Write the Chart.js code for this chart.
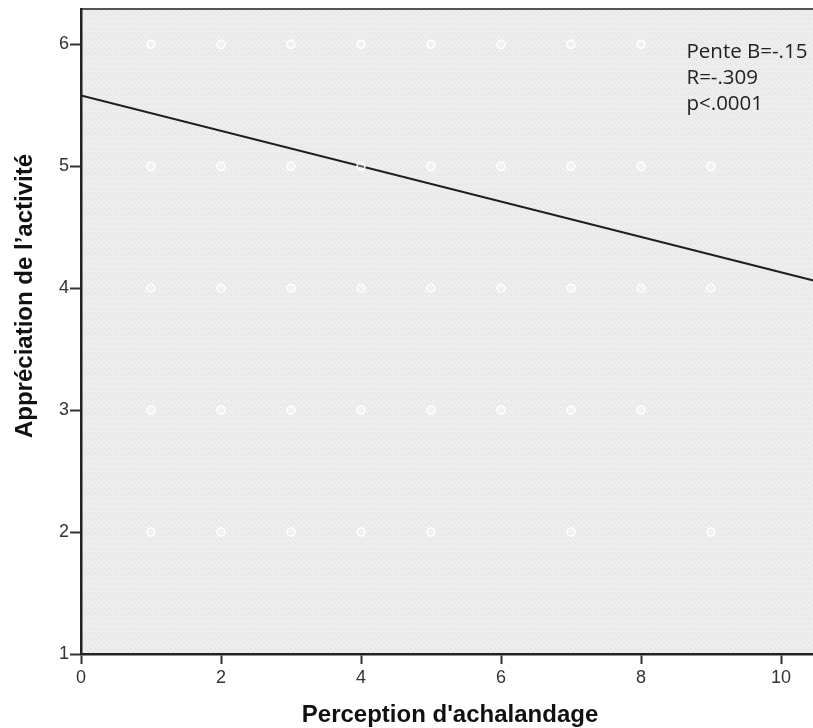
<!DOCTYPE html>
<html>
<head>
<meta charset="utf-8">
<script src="https://cdn.jsdelivr.net/npm/chart.js@4/dist/chart.umd.min.js"></script>
<style>
  body { margin: 0; background: #fff; overflow: hidden; }
  #wrap { width: 813px; height: 728px; overflow: hidden; }
</style>
</head>
<body>
<div id="wrap"><canvas id="myChart" width="830" height="728"></canvas></div>
<script>
'use strict'

// observed points, grouped by rating (y)
let yLevels = [6, 5, 4, 3, 2];
let xAtLevel = [
  [1, 2, 3, 4, 5, 6, 7, 8],
  [1, 2, 3, 4, 5, 6, 7, 8, 9],
  [1, 2, 3, 4, 5, 6, 7, 8, 9],
  [1, 2, 3, 4, 5, 6, 7, 8],
  [1, 2, 3, 4, 5, 7, 9]
];

// regression line end points
let fitX = [0, 10.62];
let fitY = [5.58, 4.04];

let xTicks = [0, 2, 4, 6, 8, 10];
let yTicks = [1, 2, 3, 4, 5, 6];

let statsText = ['Pente B=-.15', 'R=-.309', 'p<.0001'];

let xTitle = "Perception d'achalandage";
let yTitle = "Appréciation de l\u2019activité";

let points = [];
for (let i = 0; i < yLevels.length; i++) {
  for (let j = 0; j < xAtLevel[i].length; j++) {
    points.push({ x: xAtLevel[i][j], y: yLevels[i] });
  }
}
let fitLine = [];
for (let i = 0; i < fitX.length; i++) {
  fitLine.push({ x: fitX[i], y: fitY[i] });
}

// small speckle tile for the grey panel
function makeTile() {
  const c = document.createElement('canvas');
  c.width = 5; c.height = 5;
  const t = c.getContext('2d');
  t.fillStyle = '#eeeeee';
  t.fillRect(0, 0, 5, 5);
  t.fillStyle = '#e3dbe6';
  t.fillRect(1, 0, 1, 1);
  t.fillRect(3, 2, 1, 1);
  t.fillRect(0, 3, 1, 1);
  t.fillStyle = '#e6e6e6';
  t.fillRect(4, 4, 1, 1);
  t.fillRect(2, 4, 1, 1);
  return c;
}

const panelPlugin = {
  id: 'panel',
  beforeDraw(chart) {
    const { ctx, chartArea: a } = chart;
    ctx.save();
    ctx.fillStyle = ctx.createPattern(makeTile(), 'repeat');
    ctx.fillRect(a.left, a.top, a.right - a.left, a.bottom - a.top);
    ctx.strokeStyle = '#555';
    ctx.lineWidth = 2;
    ctx.beginPath();
    ctx.moveTo(a.left, a.top);
    ctx.lineTo(a.right + 2, a.top);
    ctx.stroke();
    ctx.restore();
  },
  afterDatasetsDraw(chart) {
    const { ctx, scales } = chart;
    ctx.save();
    ctx.fillStyle = '#222';
    ctx.font = '20.5px "Open Sans", sans-serif';
    ctx.textBaseline = 'middle';
    let x0 = scales.x.getPixelForValue(8.65);
    let y0 = scales.y.getPixelForValue(5.94);
    for (let i = 0; i < statsText.length; i++) {
      ctx.fillText(statsText[i], x0, y0 + i * 26);
    }
    // axis titles
    ctx.fillStyle = '#111';
    ctx.font = 'bold 24px "Liberation Sans", Arial, sans-serif';
    ctx.textAlign = 'center';
    ctx.fillText(xTitle, 450, 715);
    ctx.translate(25, 296);
    ctx.rotate(-Math.PI / 2);
    ctx.fillText(yTitle, 0, 0);
    ctx.restore();
  }
};

let ctx = document.getElementById('myChart').getContext('2d');
let myChart = new Chart(ctx, {
  type: 'scatter',
  data: {
    datasets: [{
      data: points,
      pointRadius: 4,
      pointBorderWidth: 1.6,
      borderColor: 'rgba(255,255,255,0.95)',
      backgroundColor: 'rgba(255,255,255,0.3)'
    }, {
      type: 'line',
      data: fitLine,
      borderColor: '#1e1e1e',
      borderWidth: 2,
      pointRadius: 0,
      fill: false
    }]
  },
  options: {
    responsive: false,
    animation: false,
    layout: { padding: { top: 9, left: 0, right: 0, bottom: 0 } },
    plugins: {
      legend: { display: false },
      tooltip: { enabled: false }
    },
    scales: {
      x: {
        type: 'linear',
        min: 0,
        max: 10.62,
        afterBuildTicks: (s) => { s.ticks = xTicks.map(v => ({ value: v })); },
        afterFit: (s) => { s.height = 74; s.paddingRight = 0; },
        grid: { drawOnChartArea: false, drawTicks: true, tickLength: 10, tickColor: '#333', tickWidth: 2 },
        border: { color: '#222', width: 2.5 },
        ticks: { color: '#333', padding: 3, font: { family: 'Liberation Sans, Arial', size: 18 }, maxRotation: 0 }
      },
      y: {
        type: 'linear',
        min: 1,
        max: 6.29,
        afterBuildTicks: (s) => { s.ticks = yTicks.map(v => ({ value: v })); },
        afterFit: (s) => { s.width = 81; s.paddingTop = 0; s.paddingBottom = 0; },
        grid: { drawOnChartArea: false, drawTicks: true, tickLength: 11, tickColor: '#333', tickWidth: 2 },
        border: { color: '#222', width: 2.5 },
        ticks: { color: '#333', padding: 1, font: { family: 'Liberation Sans, Arial', size: 18 } }
      }
    }
  },
  plugins: [panelPlugin]
});
</script>
</body>
</html>
